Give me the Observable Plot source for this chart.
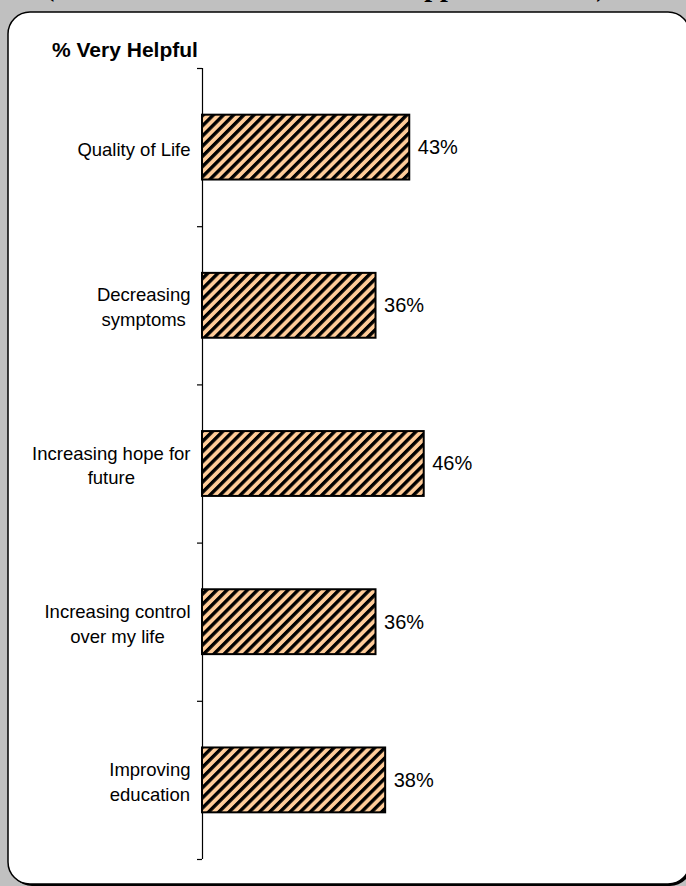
<!DOCTYPE html>
<html>
<head>
<meta charset="utf-8">
<script src="https://cdn.jsdelivr.net/npm/d3@7"></script>
<script src="https://cdn.jsdelivr.net/npm/@observablehq/plot@0.6"></script>
<style>
  html, body { margin: 0; padding: 0; overflow: hidden; }
  body { width: 686px; height: 886px; background: #C0C0C0; position: relative; font-family: "Liberation Sans", Arial, sans-serif; }
  #bg { position: absolute; left: 0; top: 0; }
  #toptext { position: absolute; left: 45px; top: -27px; white-space: nowrap; font-family: "Liberation Serif", "Times New Roman", serif; font-weight: bold; font-size: 28px; line-height: 28px; color: #000; }
  #title { position: absolute; left: 52px; top: 39px; font-weight: bold; font-size: 21px; line-height: 21px; color: #000; white-space: nowrap; }
  #chart { position: absolute; left: 0; top: 0; }
</style>
</head>
<body>
<svg id="bg" width="686" height="886" xmlns="http://www.w3.org/2000/svg">
  <rect x="10" y="14" width="682" height="872" rx="22" ry="22" fill="#000"/>
  <rect x="8" y="12" width="682" height="872" rx="22" ry="22" fill="#fff" stroke="#000" stroke-width="1.5"/>
</svg>
<div id="toptext">(Those Who Have Used Peer Support Services)</div>
<div id="title">% Very Helpful</div>
<div id="chart"></div>
<script>
const categories = [
  "Quality of Life",
  "Decreasing\nsymptoms",
  "Increasing hope for\nfuture",
  "Increasing control\nover my life",
  "Improving\neducation"
];
const values = [43, 36, 46, 36, 38];
const valueLabels = ["43%", "36%", "46%", "36%", "38%"];
const boundaryTicks = [0, 1, 2, 3, 4, 5];

const rows = categories.map((c, i) => ({category: c, value: values[i], label: valueLabels[i], pos: i + 0.5}));

const barHalf = 0.205;
const labelFont = 18.5;
const ctx = document.createElement("canvas").getContext("2d");
ctx.font = `${labelFont}px "Liberation Sans", Arial, sans-serif`;
const blockWidth = (s) => Math.max(...s.split("\n").map(l => ctx.measureText(l).width));

const labelMarks = rows.map(r => Plot.text([r], {
  x: () => 0, y: "pos", text: "category",
  textAnchor: "middle", lineAnchor: "middle",
  dx: -12 - blockWidth(r.category) / 2,
  fontSize: labelFont, lineHeight: 1.35, fill: "#000"
}));

const plot = Plot.plot({
  width: 686,
  height: 886,
  marginLeft: 202,
  marginRight: 2,
  marginTop: 68,
  marginBottom: 27,
  style: {fontFamily: '"Liberation Sans", Arial, sans-serif', background: "transparent", color: "#000", overflow: "visible"},
  x: {domain: [0, 100], axis: null},
  y: {domain: [0, 5], reverse: true, axis: null},
  marks: [
    Plot.axisY({ticks: boundaryTicks, tickFormat: () => "", tickSize: 5, anchor: "left", label: null, stroke: "#000", strokeWidth: 1.2}),
    Plot.ruleX([0], {y1: () => 0, y2: () => 5, stroke: "#000", strokeWidth: 1.2}),
    Plot.rectX(rows, {
      x1: () => 0, x2: "value",
      y1: d => d.pos - barHalf, y2: d => d.pos + barHalf,
      fill: "url(#hatch)", stroke: "#000", strokeWidth: 2
    }),
    Plot.text(rows, {x: "value", y: "pos", text: "label", dx: 8, textAnchor: "start", fontSize: 20, fill: "#000"}),
    ...labelMarks
  ]
});

// hatch pattern
const ns = "http://www.w3.org/2000/svg";
const defs = document.createElementNS(ns, "defs");
const pat = document.createElementNS(ns, "pattern");
pat.setAttribute("id", "hatch");
pat.setAttribute("patternUnits", "userSpaceOnUse");
pat.setAttribute("width", "7.2");
pat.setAttribute("height", "7.2");
pat.setAttribute("patternTransform", "rotate(45)");
const bg = document.createElementNS(ns, "rect");
bg.setAttribute("width", "7.2"); bg.setAttribute("height", "7.2"); bg.setAttribute("fill", "#FFCC99");
const stripe = document.createElementNS(ns, "rect");
stripe.setAttribute("x", "0"); stripe.setAttribute("y", "0");
stripe.setAttribute("width", "3.4"); stripe.setAttribute("height", "7.2"); stripe.setAttribute("fill", "#000");
pat.appendChild(bg); pat.appendChild(stripe);
defs.appendChild(pat);
plot.insertBefore(defs, plot.firstChild);

document.getElementById("chart").appendChild(plot);
</script>
</body>
</html>
